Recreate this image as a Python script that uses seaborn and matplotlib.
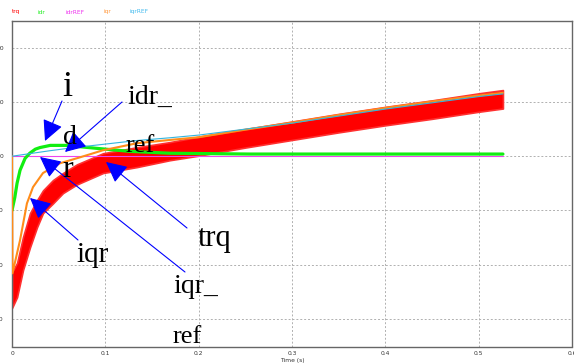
import matplotlib
matplotlib.use('Agg')
import matplotlib.pyplot as plt
import seaborn as sns

# ---- data (time in s) ----
trq_t  = [0, 0.0054, 0.0118, 0.0193, 0.0268, 0.0332, 0.0439, 0.0546, 0.0696, 0.0975, 0.134, 0.169, 0.2, 0.25, 0.3, 0.35, 0.4, 0.45, 0.5, 0.526]
trq_hi = [-21.4, -19.7, -14.9, -10.5, -8.1, -6.3, -4.4, -3.1, -1.5, 0.55, 1.66, 2.6, 3.6, 5.0, 6.4, 7.8, 9.1, 10.3, 11.6, 12.2]
trq_lo = [-28.0, -26.0, -21.0, -16.8, -13.1, -10.5, -8.7, -6.8, -5.2, -3.1, -2.0, -0.74, 0.1, 1.6, 3.0, 4.4, 5.7, 6.9, 8.2, 8.8]

idr_t = [0, 0.003, 0.0054, 0.0086, 0.014, 0.019, 0.025, 0.03, 0.041, 0.059, 0.076, 0.094, 0.126, 0.169, 0.255, 0.4, 0.526]
idr_v = [-10.0, -7.6, -5.0, -2.6, -0.4, 0.55, 1.3, 1.6, 2.0, 2.0, 1.7, 1.4, 0.9, 0.55, 0.4, 0.4, 0.4]

idrref_t = [0, 0.526]
idrref_v = [0, 0]

iqr_t = [0, 0.0005, 0.0086, 0.016, 0.0225, 0.0332, 0.0514, 0.0729, 0.0975, 0.134, 0.169, 0.2, 0.25, 0.3, 0.35, 0.4, 0.45, 0.5, 0.526]
iqr_v = [0, -21.6, -15.5, -8.7, -5.7, -3.1, -1.3, -0.2, 1.1, 2.4, 3.0, 3.5, 4.9, 6.2, 7.6, 8.9, 10.1, 11.2, 11.7]

iqrref_t = [0, 0.02, 0.04, 0.062, 0.098, 0.134, 0.169, 0.2, 0.3, 0.4, 0.5, 0.526]
iqrref_v = [0, 0.5, 1.0, 1.5, 2.2, 2.9, 3.4, 3.9, 6.1, 8.7, 11.0, 11.5]

x_ticks = [0, 0.1, 0.2, 0.3, 0.4, 0.5, 0.6]
x_tick_labels = ['0', '0.1', '0.2', '0.3', '0.4', '0.5', '0.6']
y_ticks = [-30, -20, -10, 0, 10, 20]
y_tick_labels = ['-30', '-20', '-10', '0', '10', '20']

legend_names = ['trq', 'idr', 'idrREF', 'iqr', 'iqrREF']
legend_colors = ['#ff0000', '#22ee22', '#ee33ee', '#ff9a40', '#44bbee']

# ---- figure ----
sns.set_theme(style='white')
plt.rcParams['font.family'] = ['DejaVu Sans']

W, H = 574, 364
fig = plt.figure(figsize=(W / 100, H / 100), dpi=100)
ax = fig.add_axes([12 / W, 1 - 346.5 / H, 560 / W, (346.5 - 20.7) / H])

RED, GREEN, MAG, ORANGE, CYAN = '#ff0000', '#11ee11', '#ee44ee', '#ff8c1a', '#33b5dd'

ax.fill_between(trq_t, trq_lo, trq_hi, color=RED, lw=1.2, edgecolor='#ff3030', zorder=2)
sns.lineplot(x=idrref_t, y=idrref_v, ax=ax, color=MAG, lw=0.8, estimator=None, sort=False, zorder=3)
sns.lineplot(x=idr_t, y=idr_v, ax=ax, color=GREEN, lw=2.3, estimator=None, sort=False, zorder=4)
sns.lineplot(x=iqr_t, y=iqr_v, ax=ax, color=ORANGE, lw=1.5, estimator=None, sort=False, zorder=5)
sns.lineplot(x=iqrref_t, y=iqrref_v, ax=ax, color=CYAN, lw=0.8, estimator=None, sort=False, zorder=6)

ax.set_xlim(0, 0.6)
ax.set_ylim(-35.1, 25)
ax.set_xticks(x_ticks)
ax.set_xticklabels(x_tick_labels)
ax.set_yticks(y_ticks)
ax.set_yticklabels(y_tick_labels)
ax.tick_params(axis='both', length=0, labelsize=4.3, colors='#333333')
ax.tick_params(axis='x', pad=3)
ax.tick_params(axis='y', pad=6)
ax.set_xlabel('Time (s)', fontsize=4.3, color='#333333', labelpad=1.5)
ax.set_ylabel('')
ax.grid(True, color='#b0b0b0', linestyle=(0, (2, 2)), lw=0.7)
for s in ax.spines.values():
    s.set_color('#666666')
    s.set_linewidth(1.0)

# legend texts
leg_x = [12, 38, 65, 103, 129]
for name, col, lx in zip(legend_names, legend_colors, leg_x):
    fig.text(lx / W, 1 - 12 / H, name, color=col, fontsize=4.2, va='center', ha='left')

# annotation texts (figure pixel positions, y measured from top)
serif = ['Liberation Serif', 'DejaVu Serif']
labels = [
    ('i', 62, 96, 26),
    ('idr_', 127, 104, 20),
    ('d', 63, 144, 20),
    ('ref', 126, 152, 19),
    ('r', 62, 177, 23),
    ('trq', 198, 246, 22),
    ('iqr', 76, 262, 21),
    ('iqr_', 173, 293, 20),
    ('ref', 173, 343, 19),
]
for txt, lx, ly, fs in labels:
    ax.annotate(txt, xy=(lx, H - ly), xycoords='figure pixels', ha='left', va='baseline',
                fontsize=fs, family=serif, color='black', zorder=10, annotation_clip=False)

# blue arrows (tail -> tip), figure pixels from top
arrows = [
    ((62, 101), (45, 141)),
    ((122, 102), (65, 152)),
    ((187, 228), (106, 162)),
    ((185, 272), (40, 157)),
    ((78, 240), (30, 198)),
]
for (tx, ty), (hx, hy) in arrows:
    ax.annotate('', xy=(hx, H - hy), xytext=(tx, H - ty), xycoords='figure pixels',
                textcoords='figure pixels', annotation_clip=False,
                arrowprops=dict(arrowstyle='-|>,head_length=0.8,head_width=0.4', mutation_scale=16,
                                color='#0000ff', lw=0.8, shrinkA=0, shrinkB=0), zorder=9)

fig.savefig('out.png', dpi=100)
